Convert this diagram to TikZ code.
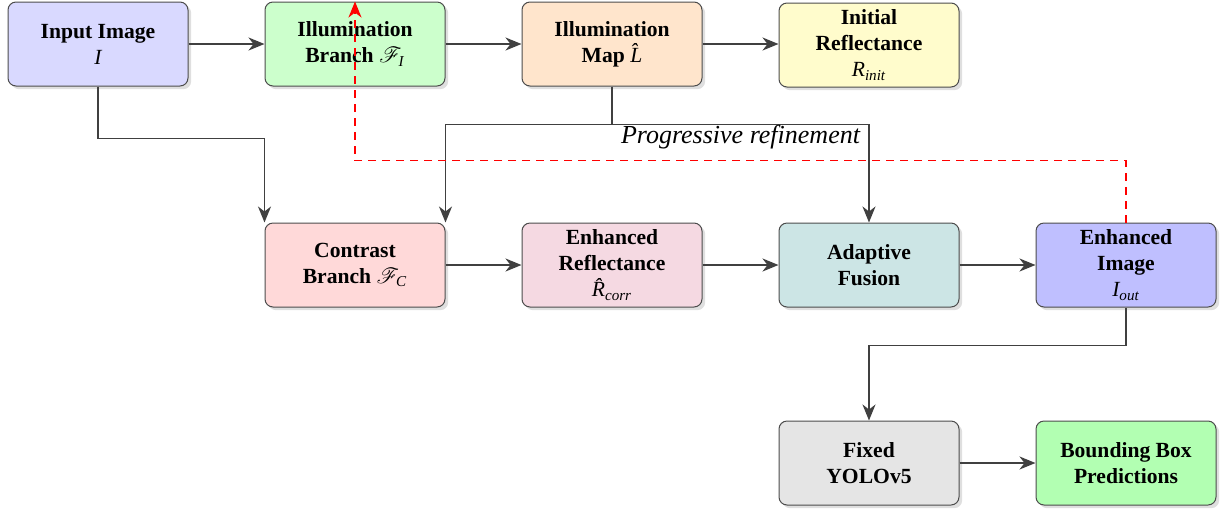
\documentclass[tikz,border=0pt]{standalone}
\usepackage{fontspec}
\setmainfont{Liberation Serif}
\usepackage{mathrsfs}
\usetikzlibrary{arrows.meta,shadows}
\newcommand{\mth}[1]{{\normalfont\itshape #1}}
\newcommand{\scrF}[1]{{\normalfont$\mathscr{F}$\kern-1.5pt\textsubscript{\itshape #1}}}
\begin{document}
\begin{tikzpicture}[x=0.5pt,y=-0.5pt,
  box/.style={draw=black!70, line width=0.5pt, rounded corners=4pt,
    minimum width=90pt, minimum height=42pt, inner sep=3pt, align=center,
    font=\fontsize{10.8}{13}\selectfont\bfseries,
    drop shadow={opacity=0.25, shadow xshift=1.6pt, shadow yshift=-1.6pt}},
  arr/.style={draw=black!75, line width=0.9pt, -{Stealth[length=8pt,width=6.5pt,inset=2.5pt]}},
  fb/.style={draw=red, line width=0.9pt, dash pattern=on 4pt off 3pt, -{Stealth[length=8pt,width=6.5pt,inset=2.5pt]}}
]
\useasboundingbox (0,0) rectangle (1228,510);
\node[box, fill=blue!15] (in) at (98,44) {Input Image\\ \mth{I}};
\node[box, fill=green!20] (ib) at (355,44) {Illumination\\ Branch \scrF{I}};
\node[box, fill=orange!20] (im) at (612,44) {Illumination\\ Map \mth{\^{L}}};
\node[box, fill=yellow!20] (ir) at (869,45) {Initial\\ Reflectance\\ \mth{R\textsubscript{init}}};
\node[box, fill=red!15] (cb) at (355,265) {Contrast\\ Branch \scrF{C}};
\node[box, fill=purple!15] (er) at (612,265) {Enhanced\\ Reflectance\\ \mth{\^{R}\textsubscript{corr}}};
\node[box, fill=teal!20] (af) at (869,265) {Adaptive\\ Fusion};
\node[box, fill=blue!25] (ei) at (1126,265) {Enhanced\\ Image\\ \mth{I\textsubscript{out}}};
\node[box, fill=gray!20] (fy) at (869,463) {Fixed\\ YOLOv5};
\node[box, fill=green!30] (bb) at (1126,463) {Bounding Box\\ Predictions};

\draw[arr] (in) -- (ib);
\draw[arr] (ib) -- (im);
\draw[arr] (im.east) -- (im.east -| ir.west);
\draw[arr] (in.south) -- ++(0,52) -| (cb.north west);
\draw[arr] (im.south) -- ++(0,38) -| (cb.north east);
\draw[arr] (im.south) -- ++(0,38) -| node[pos=0.25, below, inner sep=0pt, font=\fontsize{13}{15}\selectfont\itshape] (lbl) {Progressive refinement} (af.north);
\draw[arr] (cb) -- (er);
\draw[arr] (er) -- (af);
\draw[arr] (af) -- (ei);
\draw[arr] (ei.south) -- ++(0,38) -| (fy.north);
\draw[arr] (fy) -- (bb);
\draw[fb] (ei.north) -- ++(0,-62) -| (ib.north);
\end{tikzpicture}
\end{document}
